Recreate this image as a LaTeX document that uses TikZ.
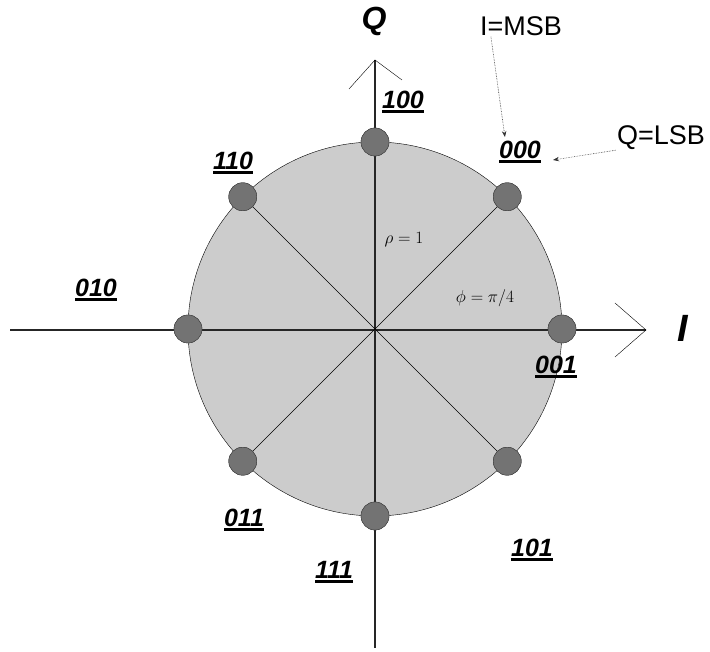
\documentclass[tikz,border=0pt]{standalone}
\usepackage{fontspec}
\setmainfont{Liberation Sans}
\usetikzlibrary{arrows.meta,calc}

% bold italic bit label with a heavy underline
\newcommand\bits[1]{\setbox0=\hbox{\bfseries\itshape #1}\rlap{\copy0}\rule[-4pt]{\wd0}{2.4pt}}

\begin{document}
\begin{tikzpicture}[x=1pt, y=1pt,
    dot/.style={circle, draw=black!75, fill=black!55, minimum size=28pt, inner sep=0pt},
    bitlbl/.style={font=\fontsize{25}{29}\selectfont, inner sep=1pt},
    axlbl/.style={font=\fontsize{32}{38}\selectfont\bfseries\itshape, inner sep=1pt},
    note/.style={font=\fontsize{27}{32}\selectfont, inner sep=1pt},
    mlbl/.style={font=\fontsize{17}{20}\selectfont, inner sep=1pt},
    ptr/.style={densely dotted, line width=0.6pt, black!80, -{Stealth[length=6pt,width=4.5pt]}},
    axis/.style={line width=1.3pt, black!85}
]
\useasboundingbox (0,0) rectangle (710,652);

\coordinate (O) at (375,323);

% disc
\fill[black!20] (O) circle (187);
\draw[thin] (O) circle (187);

% axes with open heads
\coordinate (Iw) at (10,322);
\coordinate (Ie) at (646,322);
\coordinate (Qs) at (375,4);
\coordinate (Qn) at (375,592);
\draw[axis] (Iw) -- (Ie);
\draw[axis] (Qs) -- (Qn);
\draw[thin] (615,349) -- (Ie) -- (615,295);
\draw[thin] (349,563) -- (Qn) -- (402,572);

% constellation points
\foreach \a/\n in {0/001, 45/000, 90/100, 135/110, 180/010, 225/011, 270/111, 315/101}
    \node[dot] (p\n) at ($(O)+(\a:187)$) {};

\draw[thin] (p110) -- (p101);
\draw[thin] (p011) -- (p000);
\foreach \n in {001, 000, 100, 110, 010, 011, 111, 101}
    \node[dot] at (p\n) {};

% labels
\node[axlbl] (lQ) at (374,631) {Q};
\node[axlbl, font=\fontsize{38}{44}\selectfont\bfseries\itshape] (lI) at (683,324) {I};
\node[note] (msb) at (521,626) {I=MSB};
\node[note] (lsb) at (661,514) {Q=LSB};

\node[bitlbl] (b100) at (403,550) {\bits{100}};
\node[bitlbl] (b000) at (520,500) {\bits{000}};
\node[bitlbl] (b110) at (233,489) {\bits{110}};
\node[bitlbl] (b010) at (96,362) {\bits{010}};
\node[bitlbl] (b001) at (556,285) {\bits{001}};
\node[bitlbl] (b011) at (244,132) {\bits{011}};
\node[bitlbl] (b111) at (334,80) {\bits{111}};
\node[bitlbl] (b101) at (532,102) {\bits{101}};

\node[mlbl] (rho) at (404,412) {$\rho=1$};
\node[mlbl] (phi) at (485,354) {$\phi=\pi/4$};

\draw[ptr] ([xshift=12pt]msb.south west) -- ([xshift=7pt,yshift=3pt]b000.north west);
\draw[ptr] ([yshift=1pt]lsb.south west) -- ([xshift=11pt,yshift=-8pt]b000.east);
\end{tikzpicture}
\end{document}
